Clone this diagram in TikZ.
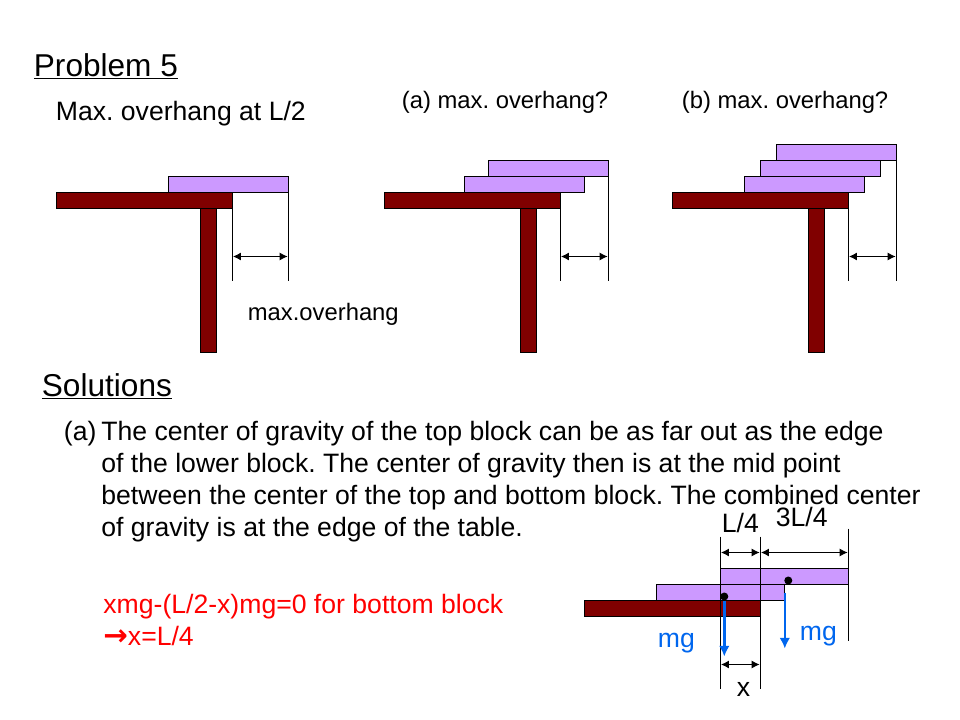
\documentclass[tikz,border=0pt]{standalone}
\usepackage{fontspec}
\setmainfont{Liberation Sans}
\newfontfamily\arrowfont{DejaVu Sans}
\usetikzlibrary{positioning,arrows.meta}
\definecolor{tablered}{RGB}{128,0,0}
\definecolor{blocklilac}{RGB}{204,153,255}
\definecolor{forceblue}{RGB}{0,102,238}
\definecolor{eqnred}{RGB}{255,0,0}
\tikzset{
  slab/.style={draw=black,line width=0.75pt,fill=tablered,anchor=north west,inner sep=0pt,outer sep=0pt,minimum width=132pt,minimum height=12pt},
  leg/.style={draw=black,line width=0.75pt,fill=tablered,anchor=north west,inner sep=0pt,outer sep=0pt,minimum width=12pt,minimum height=108pt},
  block/.style={draw=black,line width=0.75pt,fill=blocklilac,anchor=north west,inner sep=0pt,outer sep=0pt,minimum width=90pt,minimum height=12pt},
  guide/.style={line width=0.75pt},
  span/.style={line width=0.75pt,{Latex[length=6pt,width=6pt]}-{Latex[length=6pt,width=6pt]},shorten >=0.5pt,shorten <=0.5pt},
  force/.style={draw=forceblue,line width=1.9pt,-{Latex[length=8pt,width=8pt]}},
  txt/.style={anchor=base west,inner sep=0pt,xshift=-0.5pt,font=\fontsize{19.95pt}{24pt}\selectfont},
  small/.style={anchor=base west,inner sep=0pt,xshift=-0.5pt,font=\fontsize{17.85pt}{21pt}\selectfont},
  head/.style={anchor=base west,inner sep=0pt,xshift=-0.5pt,font=\fontsize{23.7pt}{29pt}\selectfont},
  cog/.style={circle,fill=black,inner sep=0pt,minimum size=6pt},
}
\begin{document}
\frenchspacing
\begin{tikzpicture}[x=0.75pt,y=0.75pt,yscale=-1]
\useasboundingbox (-0.3,-0.5) rectangle (959.7,719.5);

% Titles
\node [head] (title) at (34,76) {\underline{Problem 5}};
\node [txt] (maxnote) at (56,120) {Max. overhang at L/2};
\node [small] (parta) at (402,108) {(a) max. overhang?};
\node [small] (partb) at (682,108) {(b) max. overhang?};
\node [small] (maxlabel) at (248,320) {max.overhang};

% First table
\node [leg] (legone) at (200,208) {};
\node [slab] (slabone) at (56,192) {};
\node [block] (blockone) at (168,176) {};
\coordinate (oneA) at (232,280);
\coordinate (oneB) at (288,280);
\coordinate (oneC) at (232,256);
\coordinate (oneD) at (288,256);
\draw [guide] (slabone.south east) -- (oneA);
\draw [guide] (blockone.south east) -- (oneB);
\draw [span] (oneC) -- (oneD);

% Second table
\node [leg] (legtwo) at (520,208) {};
\node [slab] (slabtwo) at (384,192) {};
\node [block] (blocktwoA) at (464,176) {};
\node [block] (blocktwoB) at (488,160) {};
\coordinate (twoA) at (560,280);
\coordinate (twoB) at (608,280);
\coordinate (twoC) at (560,256);
\coordinate (twoD) at (608,256);
\draw [guide] (slabtwo.south east) -- (twoA);
\draw [guide] (blocktwoB.south east) -- (twoB);
\draw [span] (twoC) -- (twoD);

% Third table
\node [leg] (legthree) at (808,208) {};
\node [slab] (slabthree) at (672,192) {};
\node [block] (blockthreeA) at (744,176) {};
\node [block] (blockthreeB) at (760,160) {};
\node [block] (blockthreeC) at (776,144) {};
\coordinate (threeA) at (848,280);
\coordinate (threeB) at (896,280);
\coordinate (threeC) at (848,256);
\coordinate (threeD) at (896,256);
\draw [guide] (slabthree.south east) -- (threeA);
\draw [guide] (blockthreeC.south east) -- (threeB);
\draw [span] (threeC) -- (threeD);

% Solutions text
\node [head] (solutions) at (42,396) {\underline{Solutions}};
\node [txt] (tag) at (64,440) {(a)};
\node [txt] (lineone) at (101.5,440) {The center of gravity of the top block can be as far out as the edge};
\node [txt] (linetwo) at (101.5,472) {of the lower block. The center of gravity then is at the mid point};
\node [txt] (linethree) at (101.5,504) {between the center of the top and bottom block. The combined center};
\node [txt] (linefour) at (101.5,536) {of gravity is at the edge of the table.};
\node [txt,text=eqnred] (eqnone) at (103.5,613) {xmg-(L/2-x)mg=0 for bottom block};
\node [txt,text=eqnred] (eqntwo) at (103.5,645) {{\arrowfont\bfseries\fontsize{22pt}{24pt}\selectfont →}x=L/4};

% Solution sketch
\node [slab] (slabfour) at (584,600) {};
\node [block,minimum width=96pt] (blockfourA) at (656,584) {};
\node [block,minimum width=96pt] (blockfourB) at (720,568) {};
\coordinate (fourtopA) at (720,536);
\coordinate (fourtopB) at (760,536);
\coordinate (fourtopC) at (848,528);
\coordinate (fourlowA) at (720,688);
\coordinate (fourlowB) at (760,688);
\coordinate (fourlowC) at (848,640);
\draw [guide] (fourtopA) -- (fourlowA);
\draw [guide] (fourtopB) -- (fourlowB);
\draw [guide] (fourtopC) -- (fourlowC);
\coordinate (spanA) at (720,552);
\coordinate (spanB) at (760,552);
\coordinate (spanC) at (848,552);
\coordinate (spanD) at (720,664);
\coordinate (spanE) at (760,664);
\draw [span] (spanA) -- (spanB);
\draw [span] (spanB) -- (spanC);
\draw [span] (spanD) -- (spanE);
\node [cog] (coglow) at (724,596) {};
\node [cog] (cogtop) at (788,580) {};
\coordinate (forcelowA) at (724,600);
\coordinate (forcelowB) at (724,656);
\coordinate (forcetopA) at (784.5,592);
\coordinate (forcetopB) at (784.5,648);
\coordinate (forcetopC) at (784.5,584);
\draw [guide] (forcetopC) -- (forcetopA);
\draw [force] (forcelowA) -- (forcelowB);
\draw [force] (forcetopA) -- (forcetopB);

% Sketch labels
\node [txt] (labelL) at (722,532) {L/4};
\node [txt] (labelthree) at (776,526) {3L/4};
\node [txt,text=forceblue] (mglow) at (658,647) {mg};
\node [txt,text=forceblue] (mgtop) at (800,640) {mg};
\node [txt] (labelx) at (737,696) {x};
\end{tikzpicture}
\end{document}
